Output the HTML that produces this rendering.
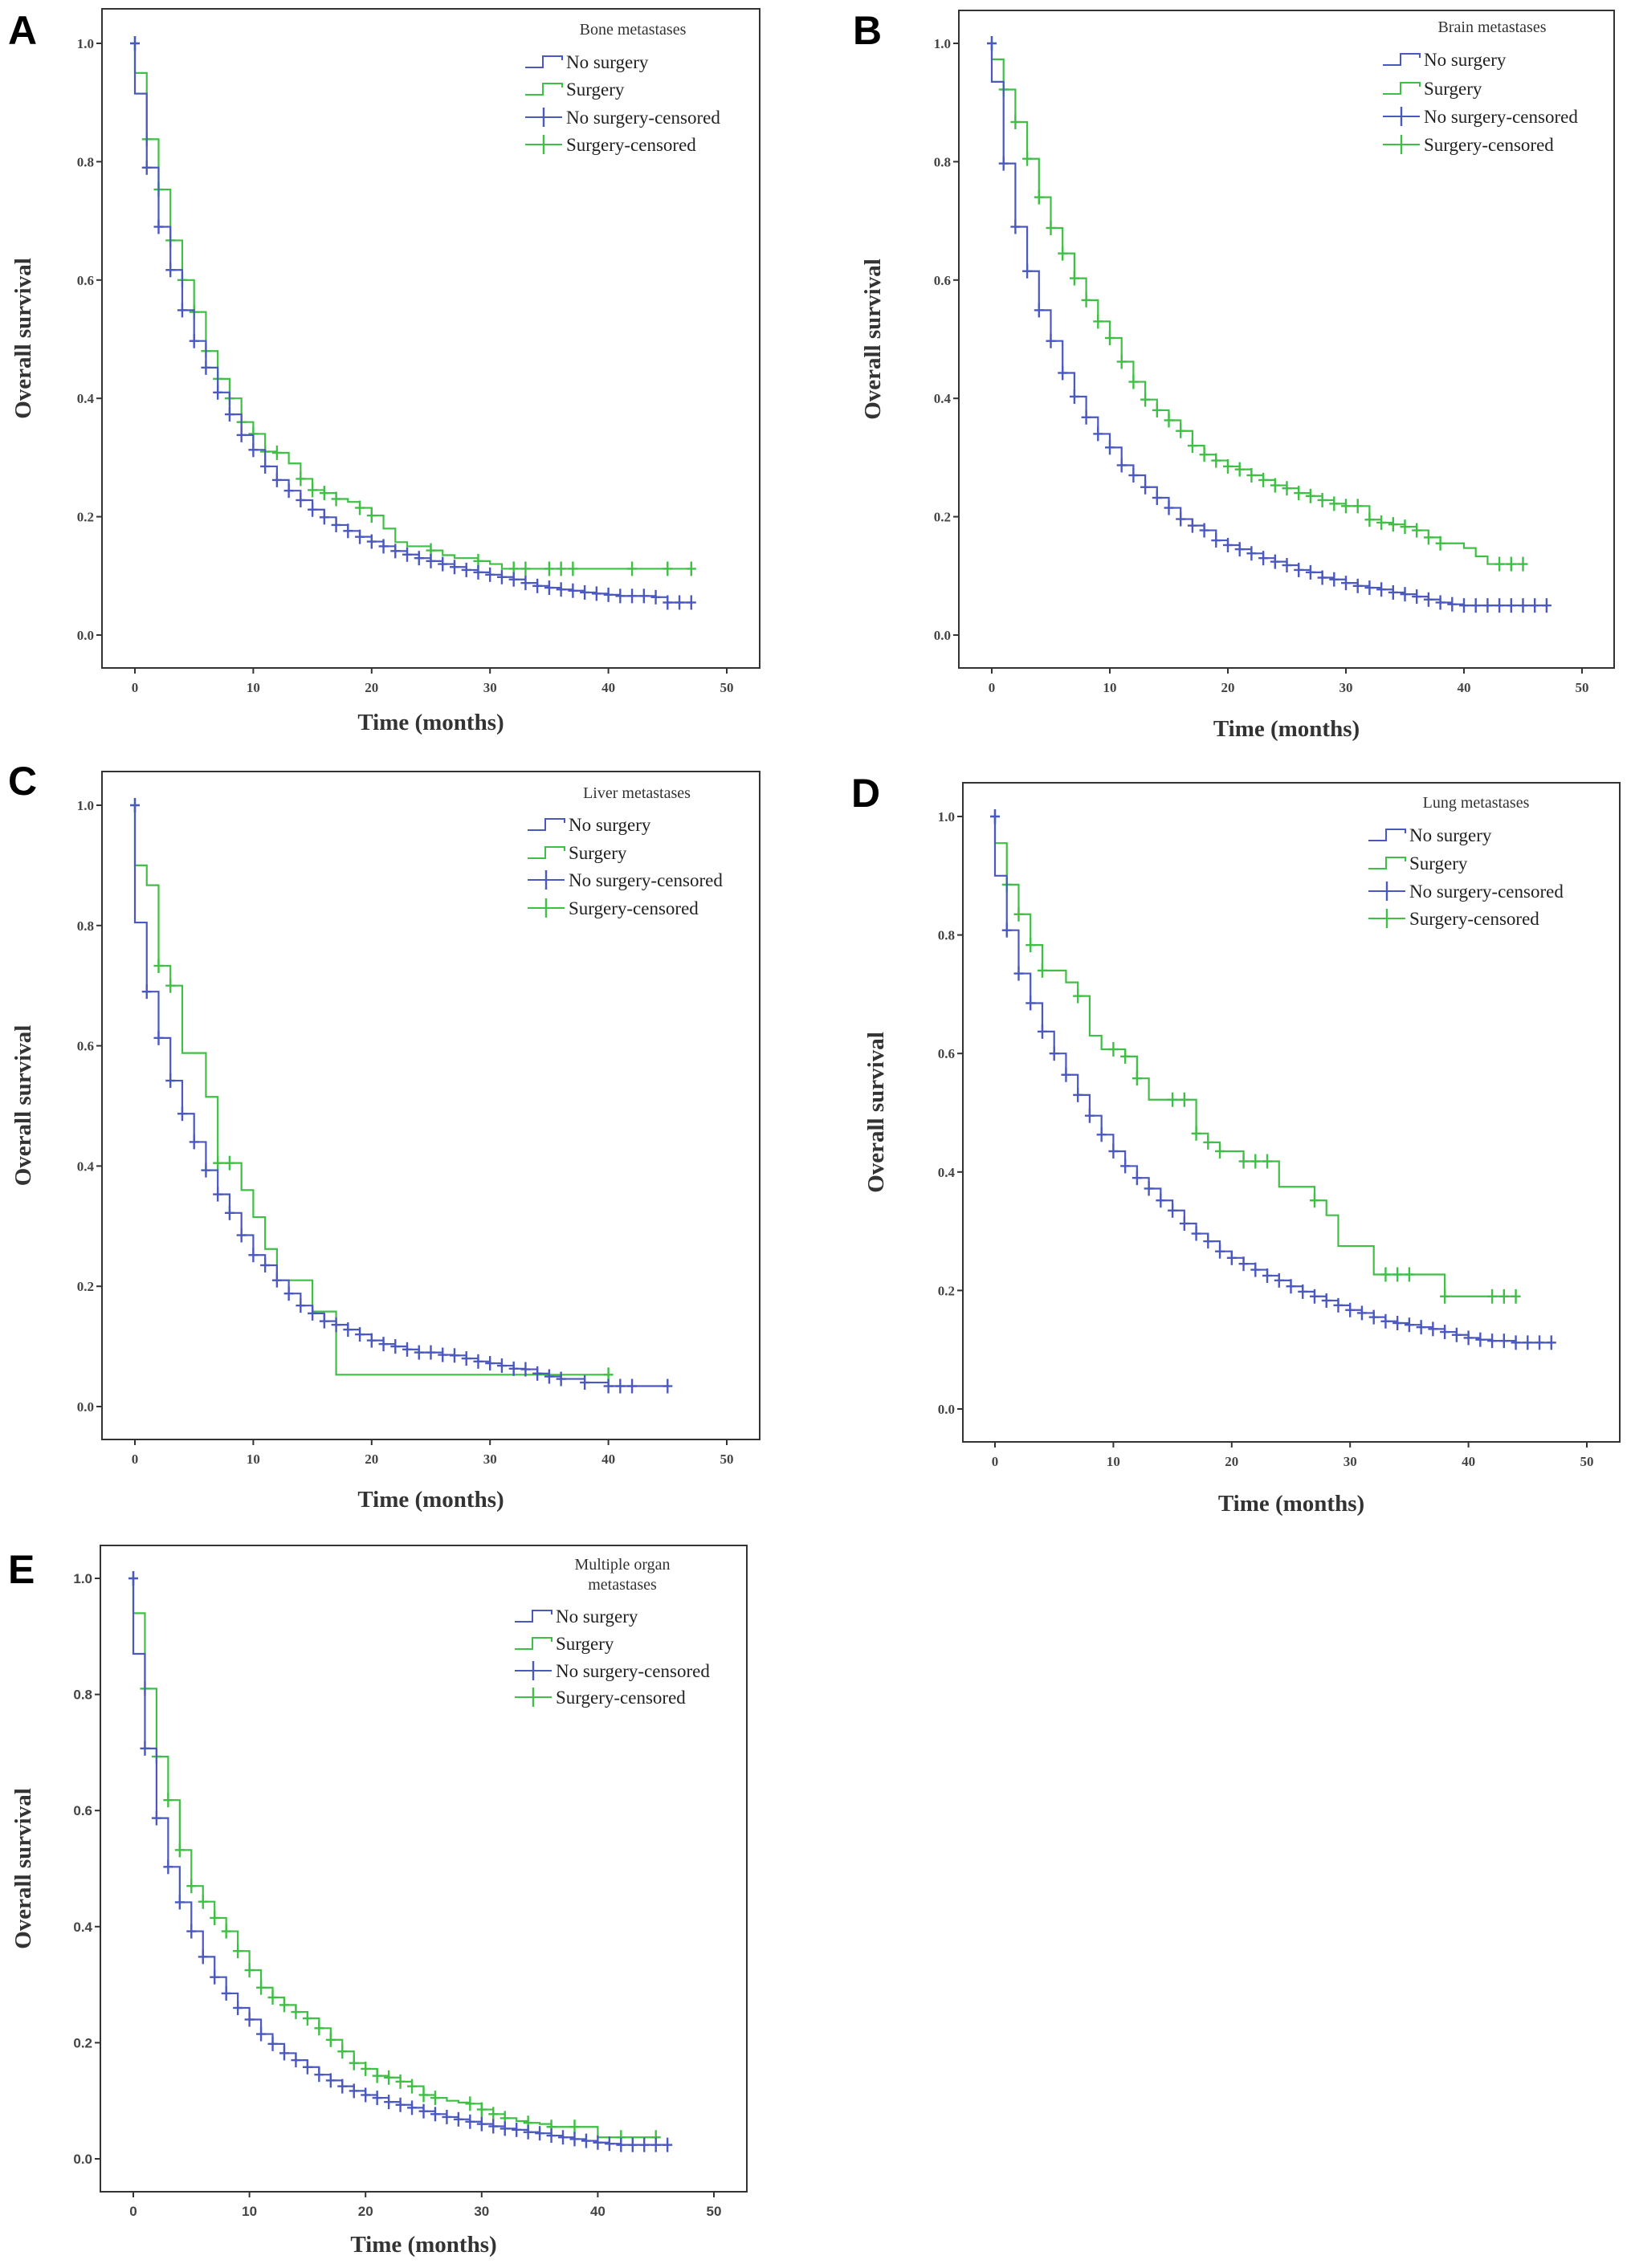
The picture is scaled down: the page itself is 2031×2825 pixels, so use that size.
<!DOCTYPE html>
<html><head><meta charset="utf-8"><style>
html,body{margin:0;padding:0;background:#fff}
svg{display:block}
</style></head><body>
<svg id="fig" xmlns="http://www.w3.org/2000/svg" width="2031" height="2825" viewBox="0 0 2031 2825"></svg>
<script>
// ---- Data (survival after each monthly step; value i holds from month i to i+1) ----
const aNoT = [0,1,2,3,4,5,6,7,8,9,10,11,12,13,14,15,16,17,18,19,20,21,22,23,24,25,26,27,28,29,30,31,32,33,34,35,36,37,38,39,40,41,42,43,44,45,46];
const aNoS = [0.915,0.79,0.69,0.617,0.549,0.497,0.452,0.41,0.373,0.338,0.313,0.285,0.262,0.244,0.228,0.212,0.199,0.186,0.176,0.166,0.158,0.15,0.142,0.136,0.13,0.125,0.12,0.115,0.11,0.106,0.102,0.098,0.094,0.088,0.083,0.08,0.077,0.075,0.072,0.07,0.068,0.066,0.066,0.066,0.064,0.055,0.055];
const aNoEnd = 47;
const aSuT = [0,1,2,3,4,5,6,7,8,9,10,11,12,13,14,15,16,17,18,19,20,21,22,23,24,25,26,27,28,29,30,31];
const aSuS = [0.95,0.838,0.753,0.667,0.6,0.546,0.48,0.433,0.4,0.36,0.34,0.31,0.308,0.29,0.264,0.245,0.24,0.23,0.225,0.215,0.202,0.18,0.157,0.15,0.15,0.143,0.135,0.13,0.13,0.125,0.12,0.112];
const aSuEnd = 47;
const aSuMarks = [1,2,3,4,5,6,7,8,9,10,11,12,14,15,16,17,19,20,25,29,32,33,35,36,37,42,45,47];

const bNoT = [0,1,2,3,4,5,6,7,8,9,10,11,12,13,14,15,16,17,18,19,20,21,22,23,24,25,26,27,28,29,30,31,32,33,34,35,36,37,38,39,40];
const bNoS = [0.935,0.797,0.69,0.615,0.549,0.497,0.443,0.403,0.368,0.34,0.317,0.287,0.27,0.25,0.232,0.215,0.196,0.185,0.177,0.16,0.152,0.145,0.138,0.13,0.124,0.118,0.11,0.106,0.097,0.094,0.088,0.083,0.08,0.077,0.072,0.069,0.065,0.06,0.055,0.052,0.05];
const bNoEnd = 47;
const bSuT = [0,1,2,3,4,5,6,7,8,9,10,11,12,13,14,15,16,17,18,19,20,21,22,23,24,25,26,27,28,29,30,31,32,33,34,35,36,37,38,39,40,41,42];
const bSuS = [0.973,0.922,0.867,0.805,0.74,0.688,0.645,0.603,0.566,0.53,0.502,0.462,0.428,0.398,0.38,0.363,0.345,0.32,0.305,0.295,0.285,0.28,0.27,0.262,0.253,0.248,0.24,0.235,0.228,0.222,0.218,0.218,0.195,0.19,0.187,0.183,0.177,0.165,0.155,0.155,0.147,0.133,0.12];
const bSuEnd = 45;
const bSuMarks = [1,2,3,4,5,6,7,8,9,10,11,12,13,14,15,16,17,18,19,20,21,22,23,24,25,26,27,28,29,30,31,32,33,34,35,36,37,38,43,44,45];

const cNoT = [0,1,2,3,4,5,6,7,8,9,10,11,12,13,14,15,16,17,18,19,20,21,22,23,24,25,26,27,28,29,30,31,32,33,34,35,36,37,38,39,40];
const cNoS = [0.805,0.69,0.613,0.542,0.487,0.44,0.393,0.353,0.322,0.285,0.252,0.235,0.21,0.188,0.168,0.155,0.142,0.136,0.128,0.12,0.11,0.104,0.1,0.095,0.09,0.09,0.086,0.085,0.08,0.075,0.072,0.068,0.063,0.062,0.055,0.05,0.046,0.046,0.04,0.04,0.034];
const cNoEnd = 45;
const cNoMarks = [1,2,3,4,5,6,7,8,9,10,11,12,13,14,15,16,17,18,19,20,21,22,23,24,25,26,27,28,29,30,31,32,33,34,35,36,38,40,41,42,45];
const cSuT = [0,1,2,3,4,6,7,9,10,11,12,15,17];
const cSuS = [0.9,0.867,0.733,0.7,0.588,0.515,0.405,0.36,0.315,0.262,0.21,0.158,0.053];
const cSuEnd = 40;
const cSuMarks = [2,3,7,8,40];

const dNoT = [0,1,2,3,4,5,6,7,8,9,10,11,12,13,14,15,16,17,18,19,20,21,22,23,24,25,26,27,28,29,30,31,32,33,34,35,36,37,38,39,40,41,42,43,44];
const dNoS = [0.9,0.808,0.735,0.685,0.637,0.6,0.564,0.53,0.495,0.463,0.435,0.41,0.39,0.372,0.352,0.335,0.313,0.296,0.283,0.266,0.255,0.245,0.235,0.225,0.217,0.207,0.198,0.19,0.183,0.175,0.167,0.162,0.155,0.148,0.145,0.142,0.138,0.135,0.13,0.125,0.12,0.117,0.115,0.115,0.112];
const dNoEnd = 47;
const dSuT = [0,1,2,3,4,6,7,8,9,11,12,13,17,18,19,21,24,27,28,29,32,38];
const dSuS = [0.955,0.885,0.835,0.783,0.74,0.72,0.697,0.63,0.607,0.595,0.558,0.522,0.465,0.45,0.435,0.418,0.375,0.352,0.327,0.275,0.227,0.19];
const dSuEnd = 44;
const dSuMarks = [1,2,3,4,7,10,11,12,15,16,17,18,19,21,22,23,27,33,34,35,38,42,43,44];

const eNoT = [0,1,2,3,4,5,6,7,8,9,10,11,12,13,14,15,16,17,18,19,20,21,22,23,24,25,26,27,28,29,30,31,32,33,34,35,36,37,38,39,40,41,42];
const eNoS = [0.87,0.707,0.587,0.503,0.442,0.392,0.348,0.313,0.285,0.26,0.24,0.215,0.198,0.182,0.17,0.158,0.145,0.135,0.125,0.117,0.11,0.105,0.098,0.093,0.088,0.082,0.077,0.072,0.068,0.064,0.06,0.056,0.052,0.05,0.046,0.044,0.04,0.037,0.034,0.031,0.028,0.026,0.024];
const eNoEnd = 46;
const eSuT = [0,1,2,3,4,5,6,7,8,9,10,11,12,13,14,15,16,17,18,19,20,21,22,23,24,25,26,27,28,29,30,31,32,33,34,35,36,40];
const eSuS = [0.94,0.81,0.693,0.618,0.532,0.47,0.443,0.415,0.392,0.358,0.325,0.295,0.278,0.265,0.253,0.242,0.225,0.205,0.185,0.165,0.155,0.143,0.14,0.133,0.125,0.11,0.105,0.1,0.097,0.095,0.085,0.077,0.07,0.065,0.062,0.06,0.055,0.037];
const eSuEnd = 45;
const eSuMarks = [1,2,3,4,5,6,7,8,9,10,11,12,13,14,15,16,17,18,19,20,21,22,23,24,25,26,29,30,31,32,34,36,38,42,45];

const xTicks = [0,10,20,30,40,50];
const yTicks = [0.0,0.2,0.4,0.6,0.8,1.0];
const yTickLabels = ["0.0","0.2","0.4","0.6","0.8","1.0"];
const legendLabels = ["No surgery","Surgery","No surgery-censored","Surgery-censored"];

const BLUE = "#4a58bf", GREEN = "#3fbf45";
const NS = "http://www.w3.org/2000/svg";
const svg = document.getElementById('fig');

function mk(tag, attrs, parent) {
  const e = document.createElementNS(NS, tag);
  for (const k in attrs) e.setAttribute(k, attrs[k]);
  (parent || svg).appendChild(e);
  return e;
}
function txt(str, attrs, parent) { const e = mk('text', attrs, parent); e.textContent = str; return e; }

function survAt(T, S, t) {
  let v = 1;
  for (let i = 0; i < T.length; i++) if (T[i] <= t) v = S[i];
  return v;
}

function panel(cfg) {
  const g = mk('g', {});
  
  
  const xs = v => cfg.x0 + (cfg.x50 - cfg.x0) * v / 50;
  const ys = v => cfg.y0 + (cfg.y1 - cfg.y0) * v;
  const box = mk('rect', {x: cfg.bl, y: cfg.bt, width: cfg.br - cfg.bl, height: cfg.bb - cfg.bt, fill: 'none', stroke: '#333', 'stroke-width': 2}, g);
  
  
  const lab = txt(cfg.letter, {x: cfg.lx, y: cfg.ly, 'font-family': 'Liberation Sans, sans-serif', 'font-weight': 'bold', 'font-size': 50, fill: '#000'}, g);
  
  
  const tickFont = cfg.sans ? 'Liberation Sans, sans-serif' : 'Liberation Serif, serif';
  yTicks.forEach((v, i) => {
    const y = ys(v);
    mk('line', {x1: cfg.bl - 7, x2: cfg.bl, y1: y, y2: y, stroke: '#333', 'stroke-width': 2}, g);
    const t = txt(yTickLabels[i], {x: cfg.bl - 10, y: y + 6, 'text-anchor': 'end', 'font-family': tickFont, 'font-weight': 'bold', 'font-size': 17, fill: '#444'}, g);
    
    
  });
  xTicks.forEach(v => {
    const x = xs(v);
    mk('line', {x1: x, x2: x, y1: cfg.bb, y2: cfg.bb + 7, stroke: '#333', 'stroke-width': 2}, g);
    const t = txt(String(v), {x: x, y: cfg.bb + 30, 'text-anchor': 'middle', 'font-family': tickFont, 'font-weight': 'bold', 'font-size': 17, fill: '#444'}, g);
    
    
  });
  const xt = txt('Time (months)', {x: (cfg.bl + cfg.br) / 2, y: cfg.xtY, 'text-anchor': 'middle', 'font-family': 'Liberation Serif, serif', 'font-weight': 'bold', 'font-size': 29, fill: '#333'}, g);
  
  
  const cy = (cfg.bt + cfg.bb) / 2;
  const yt = txt('Overall survival', {x: cfg.ytX, y: cy, 'text-anchor': 'middle', transform: `rotate(-90 ${cfg.ytX} ${cy})`, 'font-family': 'Liberation Serif, serif', 'font-weight': 'bold', 'font-size': 29, fill: '#333'}, g);
  
  

  function curve(T, S, end, color, marks, name) {
    let d = `M${xs(0)},${ys(1)}`;
    let prev = 1;
    for (let i = 0; i < T.length; i++) {
      d += ` L${xs(T[i])},${ys(prev)} L${xs(T[i])},${ys(S[i])}`;
      prev = S[i];
    }
    d += ` L${xs(end)},${ys(prev)}`;
    const p = mk('path', {d: d, fill: 'none', stroke: color, 'stroke-width': 2.2}, g);
    
    
    const mg = mk('g', {stroke: color, 'stroke-width': 2.4}, g);
    
    
    const m0 = [0].concat(marks);
    m0.forEach(t => {
      const x = xs(t), y = ys(t === 0 ? 1 : survAt(T, S, t));
      mk('line', {x1: x, x2: x, y1: y - 9, y2: y + 9}, mg);
      mk('line', {x1: x - 6, x2: x + 6, y1: y, y2: y}, mg);
    });
  }
  const allMarks = end => { const a = []; for (let t = 1; t <= end; t++) a.push(t); return a; };
  curve(cfg.suT, cfg.suS, cfg.suEnd, GREEN, cfg.suMarks || allMarks(cfg.suEnd), 'surgery');
  curve(cfg.noT, cfg.noS, cfg.noEnd, BLUE, cfg.noMarks || allMarks(cfg.noEnd), 'no-surgery');

  // legend
  const lg = mk('g', {}, g);
  
  
  cfg.title.forEach((line, i) => {
    const t = txt(line, {x: cfg.legCx, y: cfg.legTy + i * 25 + 7, 'text-anchor': 'middle', 'font-family': 'Liberation Serif, serif', 'font-size': 20, fill: '#333'}, lg);
    
    
  });
  legendLabels.forEach((l, i) => {
    const y = cfg.legYs[i];
    const sx = cfg.legSx, ex = cfg.legSx + 46;
    const color = (i % 2 === 0) ? BLUE : GREEN;
    if (i < 2) mk('path', {d: `M${sx},${y + 7} L${sx + 22},${y + 7} L${sx + 22},${y - 7} L${ex},${y - 7} L${ex},${y - 2}`, fill: 'none', stroke: color, 'stroke-width': 2}, lg);
    else { mk('line', {x1: sx, x2: ex, y1: y, y2: y, stroke: color, 'stroke-width': 2}, lg); mk('line', {x1: sx + 23, x2: sx + 23, y1: y - 12, y2: y + 12, stroke: color, 'stroke-width': 2.4}, lg); }
    const t = txt(l, {x: ex + 5, y: y + 8, 'font-family': 'Liberation Serif, serif', 'font-size': 23, fill: '#222'}, lg);
    
    
  });
}

panel({letter:'A', lx:10, ly:55, bl:127, br:946, bt:11, bb:832, x0:168, x50:905, y0:791, y1:54, xtY:909, ytX:38,
  noT:aNoT, noS:aNoS, noEnd:aNoEnd, suT:aSuT, suS:aSuS, suEnd:aSuEnd, suMarks:aSuMarks,
  title:['Bone metastases'], legCx:788, legTy:36, legYs:[77,111,146,180], legSx:654});
panel({letter:'B', lx:1062, ly:55, bl:1194, br:2010, bt:13, bb:832, x0:1235, x50:1970, y0:791, y1:54, xtY:917, ytX:1096,
  noT:bNoT, noS:bNoS, noEnd:bNoEnd, suT:bSuT, suS:bSuS, suEnd:bSuEnd, suMarks:bSuMarks,
  title:['Brain metastases'], legCx:1858, legTy:33, legYs:[74,110,145,180], legSx:1722});
panel({letter:'C', lx:10, ly:990, bl:127, br:946, bt:961, bb:1793, x0:168, x50:905, y0:1752, y1:1003, xtY:1877, ytX:38,
  noT:cNoT, noS:cNoS, noEnd:cNoEnd, noMarks:cNoMarks, suT:cSuT, suS:cSuS, suEnd:cSuEnd, suMarks:cSuMarks,
  title:['Liver metastases'], legCx:793, legTy:987, legYs:[1027,1062,1096,1131], legSx:657});
panel({letter:'D', lx:1060, ly:1005, bl:1199, br:2017, bt:975, bb:1796, x0:1239, x50:1976, y0:1755, y1:1017, xtY:1882, ytX:1100,
  noT:dNoT, noS:dNoS, noEnd:dNoEnd, suT:dSuT, suS:dSuS, suEnd:dSuEnd, suMarks:dSuMarks,
  title:['Lung metastases'], legCx:1838, legTy:999, legYs:[1040,1075,1110,1144], legSx:1704});
panel({letter:'E', lx:10, ly:1972, bl:125, br:930, bt:1925, bb:2730, x0:166, x50:889, y0:2689, y1:1966, xtY:2805, ytX:38, sans:true,
  noT:eNoT, noS:eNoS, noEnd:eNoEnd, suT:eSuT, suS:eSuS, suEnd:eSuEnd, suMarks:eSuMarks,
  title:['Multiple organ','metastases'], legCx:775, legTy:1948, legYs:[2013,2047,2081,2114], legSx:641});
</script>
</body></html>
